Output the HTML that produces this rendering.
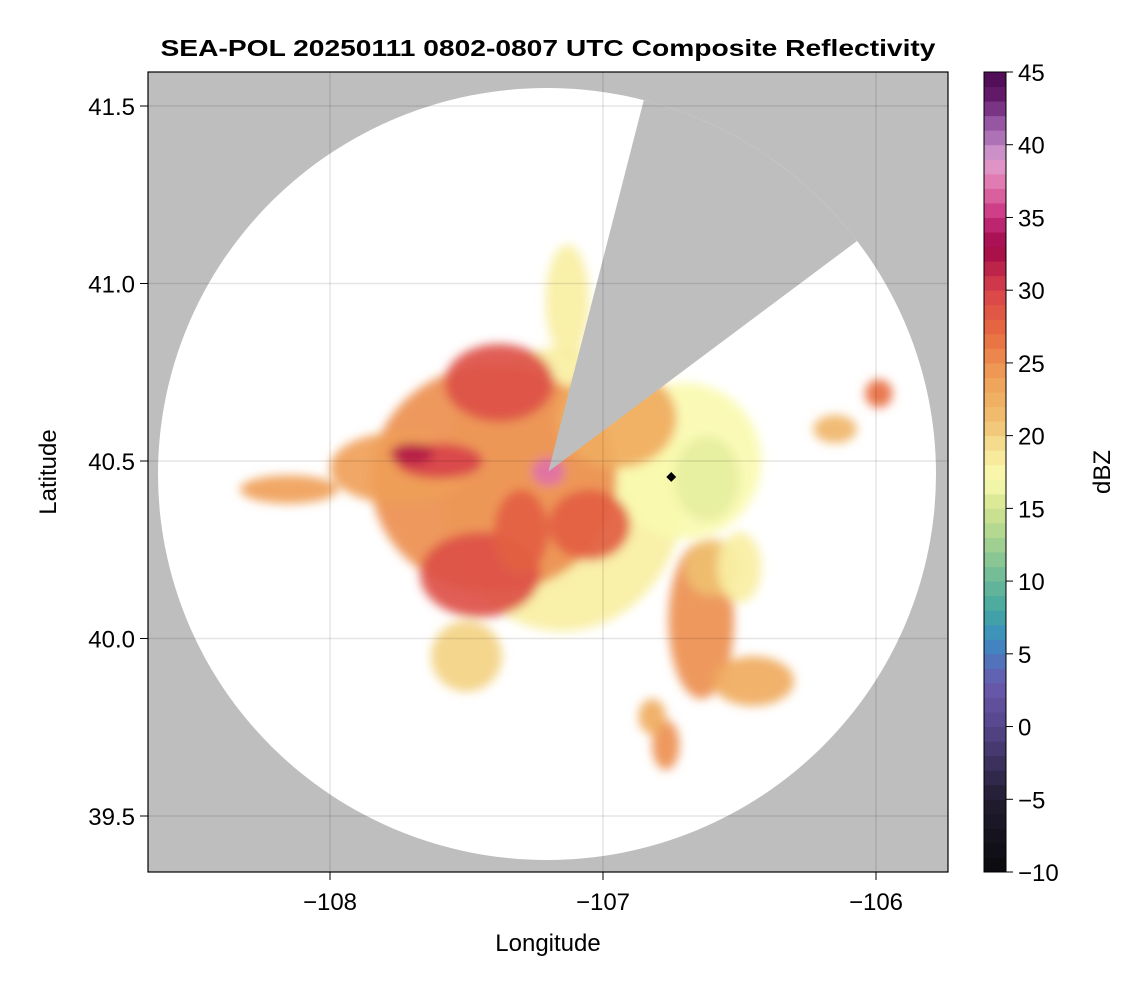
<!DOCTYPE html>
<html><head><meta charset="utf-8"><style>
body{margin:0;background:#fff;font-family:"Liberation Sans",sans-serif;}
</style></head><body>
<svg id="chart" width="1146" height="990" xmlns="http://www.w3.org/2000/svg" font-family="Liberation Sans, sans-serif">
<defs>
<clipPath id="pc"><rect x="148" y="72" width="800" height="800"/></clipPath>
<clipPath id="cc"><ellipse cx="547" cy="474" rx="389" ry="386"/></clipPath>
<filter id="bl" x="-50%" y="-50%" width="200%" height="200%"><feGaussianBlur stdDeviation="5"/></filter>
</defs>
<g id="plot" clip-path="url(#pc)"></g>
<rect x="148" y="72" width="800" height="800" fill="none" stroke="#000" stroke-width="1.2"/>
<text x="548" y="56" text-anchor="middle" font-size="23" font-weight="bold" textLength="775" lengthAdjust="spacingAndGlyphs">SEA-POL 20250111 0802-0807 UTC Composite Reflectivity</text>
<text x="548" y="951" text-anchor="middle" font-size="24">Longitude</text>
<text x="56" y="472" text-anchor="middle" font-size="24" transform="rotate(-90 56 472)">Latitude</text>
<text x="1110" y="472" text-anchor="middle" font-size="24" transform="rotate(-90 1110 472)">dBZ</text>
<g id="axes"></g>
<g id="cbar"></g>
</svg>
<script>
const xTicks=[-108,-107,-106];
const yTicks=[41.5,41.0,40.5,40.0,39.5];
const cbTicks=[45,40,35,30,25,20,15,10,5,0,-5,-10];
// echo blobs: lon, lat, radius lon (deg), radius lat (deg), dBZ
const blobLon=[-107.15,-106.70,-107.40,-107.75,-108.15,-106.95,-106.62,-107.13,-107.50,-106.64,-106.45,-106.77,-106.82,-107.38,-107.45,-107.60,-107.70,-107.20,-106.15,-105.99,-107.05,-107.30,-106.60,-106.50];
const blobLat=[40.42,40.50,40.45,40.48,40.42,40.62,40.45,40.95,39.95,40.05,39.88,39.70,39.78,40.72,40.18,40.50,40.52,40.47,40.59,40.69,40.32,40.30,40.20,40.20];
const blobRx=[0.45,0.28,0.45,0.25,0.18,0.22,0.12,0.08,0.13,0.12,0.15,0.05,0.05,0.20,0.22,0.16,0.08,0.06,0.08,0.05,0.15,0.10,0.10,0.08];
const blobRy=[0.40,0.22,0.32,0.10,0.04,0.14,0.12,0.16,0.10,0.22,0.07,0.07,0.05,0.11,0.12,0.05,0.03,0.04,0.04,0.04,0.10,0.12,0.08,0.10];
const blobDbz=[18,17,25,24,24,23,16,18,20,25,23,25,23,29,29,30,32,37,22,27,28,28,21,18];
const radarLon=-107.20, radarLat=40.47;
const markerLon=-106.75, markerLat=40.455;

const X=lon=>330+(lon+108)*273;
const Y=lat=>461-(lat-40.5)*355;
const stops=[[-10,'#0a0a0e'],[-5,'#221c30'],[0,'#55468a'],[3,'#6a5aae'],[5,'#4a7ac0'],[6,'#3a8cc0'],[8,'#45a8a0'],[10,'#6ab898'],[13,'#aad490'],[15,'#d2e490'],[17,'#fafab0'],[19,'#f6e496'],[21,'#f0c070'],[24,'#f0a058'],[27,'#e86c40'],[30,'#d8424a'],[32,'#b41a48'],[33,'#a00848'],[35,'#c82e7c'],[37,'#e070a8'],[39,'#e0a0d0'],[40,'#b880c0'],[42,'#8a4898'],[43,'#6a2070'],[45,'#4a0850']];
function hx(h){return [1,3,5].map(i=>parseInt(h.substr(i,2),16));}
function cmap(v){for(let i=0;i<stops.length-1;i++){const[a,ca]=stops[i],[b,cb]=stops[i+1];if(v<=b){const t=Math.max(0,(v-a)/(b-a));const p=hx(ca),q=hx(cb);return 'rgb('+p.map((c,j)=>Math.round(c+(q[j]-c)*t)).join(',')+')';}}return stops[stops.length-1][1];}
const NS='http://www.w3.org/2000/svg';
function mk(tag,attrs,parent){const e=document.createElementNS(NS,tag);for(const k in attrs)e.setAttribute(k,attrs[k]);parent.appendChild(e);return e;}
const plot=document.getElementById('plot');
let e=mk('rect',{x:148,y:72,width:800,height:800,fill:'#bebebe'},plot);


e=mk('ellipse',{cx:547,cy:474,rx:389,ry:386,fill:'#fff'},plot);


const eg=mk('g',{filter:'url(#bl)'},plot);


for(let i=0;i<blobLon.length;i++){
  const cx=X(blobLon[i]),cy=Y(blobLat[i]);
  const b=mk('ellipse',{cx:cx,cy:cy,rx:blobRx[i]*273,ry:blobRy[i]*355,fill:cmap(blobDbz[i]),opacity:0.92},eg);
  
  
}
const ax=X(radarLon),ay=Y(radarLat);
const wg=mk('g',{'clip-path':'url(#cc)'},plot);
e=mk('polygon',{points:`${ax},${ay} 651,72 948,72 948,173`,fill:'#bebebe'},wg);


e=mk('rect',{x:X(markerLon)-3.5,y:Y(markerLat)-3.5,width:7,height:7,fill:'#000',transform:`rotate(45 ${X(markerLon)} ${Y(markerLat)})`},plot);


const axes=document.getElementById('axes');
xTicks.forEach(t=>{const x=X(t);
  mk('line',{x1:x,y1:72,x2:x,y2:872,stroke:'#000','stroke-opacity':0.1,'stroke-width':1.5},axes);
  mk('line',{x1:x,y1:872,x2:x,y2:880,stroke:'#000'},axes);
  const l=mk('text',{x:x,y:910,'text-anchor':'middle','font-size':24},axes);l.textContent=('\u2212'+Math.abs(t));
  
  });
yTicks.forEach(t=>{const y=Y(t);
  mk('line',{x1:148,y1:y,x2:948,y2:y,stroke:'#000','stroke-opacity':0.1,'stroke-width':1.5},axes);
  mk('line',{x1:140,y1:y,x2:148,y2:y,stroke:'#000'},axes);
  const l=mk('text',{x:135,y:y+9,'text-anchor':'end','font-size':24},axes);l.textContent=t.toFixed(1);
  
  });
const cb=document.getElementById('cbar');
const CY=v=>872-(v+10)*800/55;
for(let v=-10;v<45;v++){const r=mk('rect',{x:984,y:CY(v+1),width:22,height:800/55+0.5,fill:cmap(v+0.5)},cb);
  
  }
mk('rect',{x:984,y:72,width:22,height:800,fill:'none',stroke:'#000','stroke-width':1},cb);
cbTicks.forEach(t=>{const y=CY(t);mk('line',{x1:1006,y1:y,x2:1013,y2:y,stroke:'#000'},cb);
  const l=mk('text',{x:1018,y:y+9,'font-size':24},cb);l.textContent=(t<0?'\u2212'+Math.abs(t):t);
  
  });
</script>
</body></html>
